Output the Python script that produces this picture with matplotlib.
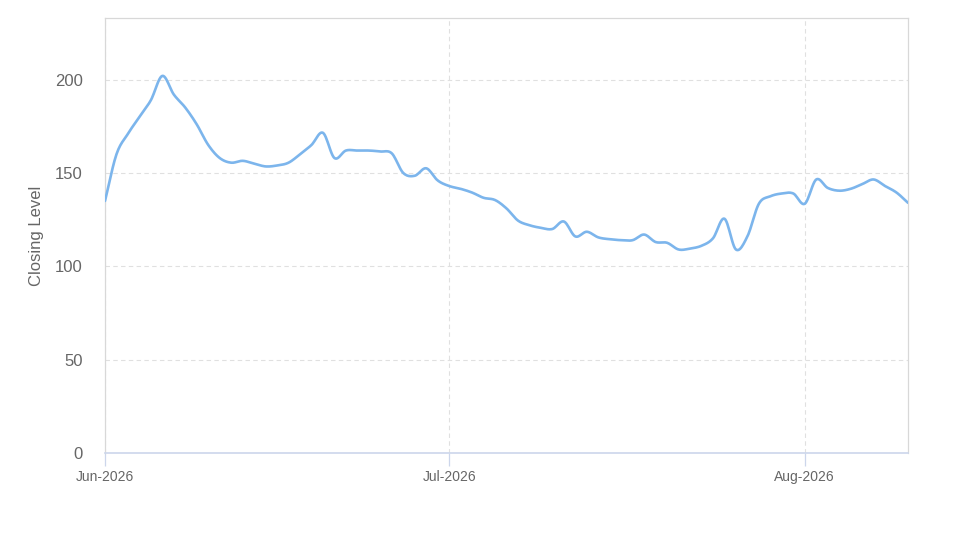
import numpy as np
import pandas as pd
import matplotlib
matplotlib.use('Agg')
import matplotlib.pyplot as plt
import matplotlib.dates as mdates

plt.rcParams['font.family'] = ['Liberation Sans', 'DejaVu Sans']

# daily closing levels, 1 Jun - 10 Aug 2026
start = '2026-06-01'
levels = [135, 160, 171, 180, 189, 202, 192, 185, 176, 165,
          158, 155.5, 156.5, 155, 153.5, 154, 155.5, 160, 165, 171.5,
          158, 162, 162, 162, 161.5, 160.5, 150, 148.5, 152.5, 146,
          143, 141.5, 139.5, 136.7, 135.5, 131, 124.5, 122, 120.6, 120,
          124, 116, 118.5, 115.5, 114.5, 114, 114, 117, 113, 112.6,
          109, 109.5, 111, 115, 125.5, 109, 116, 133.5, 137.5, 139,
          139, 133.5, 146.5, 142, 140.5, 141.5, 144, 146.5, 143, 139.5,
          134]
dates = pd.date_range(start, periods=len(levels), freq='D')

y_ticks = [0, 50, 100, 150, 200]
month_ticks = pd.to_datetime(['2026-06-01', '2026-07-01', '2026-08-01'])

line_col = '#7cb5ec'
axis_col = '#ccd6eb'
grid_col = '#e0e0e0'
text_col = '#666666'


def smooth(x, y, n=12):
    # catmull-rom through the daily points, only for drawing the curve
    x = np.asarray(x, float)
    y = np.asarray(y, float)
    px = np.concatenate([[2 * x[0] - x[1]], x, [2 * x[-1] - x[-2]]])
    py = np.concatenate([[2 * y[0] - y[1]], y, [2 * y[-1] - y[-2]]])
    t = np.linspace(0, 1, n, endpoint=False)
    xs, ys = [], []
    for i in range(1, len(px) - 2):
        for p, out in ((px, xs), (py, ys)):
            p0, p1, p2, p3 = p[i - 1], p[i], p[i + 1], p[i + 2]
            out.append(0.5 * (2 * p1 + (-p0 + p2) * t
                              + (2 * p0 - 5 * p1 + 4 * p2 - p3) * t ** 2
                              + (-p0 + 3 * p1 - 3 * p2 + p3) * t ** 3))
    xs.append([x[-1]])
    ys.append([y[-1]])
    return np.concatenate(xs), np.concatenate(ys)


fig = plt.figure(figsize=(9.74, 5.47), dpi=100)
ax = fig.add_axes([105 / 974, 94 / 547, 803 / 974, 435 / 547])

xn = mdates.date2num(dates)
sx, sy = smooth(xn, levels)
ax.plot(sx, sy, color=line_col, lw=1.9, solid_capstyle='round', zorder=3)

ax.set_xlim(xn[0], xn[-1])
ax.set_ylim(0, 233)
ax.set_yticks(y_ticks)
ax.set_xticks(mdates.date2num(month_ticks))
ax.xaxis.set_major_formatter(mdates.DateFormatter('%b-%Y'))

ax.grid(True, color=grid_col, lw=0.8, ls=(0, (4, 3)))
ax.set_axisbelow(True)

for s in ['top', 'right', 'left']:
    ax.spines[s].set_color('#d8d8d8')
    ax.spines[s].set_linewidth(0.9)
ax.spines['bottom'].set_color(axis_col)
ax.spines['bottom'].set_linewidth(1.2)

ax.tick_params(axis='y', length=0, pad=16, labelsize=12, labelcolor=text_col)
ax.tick_params(axis='x', length=9.5, width=0.9, color=axis_col, pad=3,
               labelsize=10, labelcolor=text_col)

ax.set_ylabel('Closing Level', fontsize=12, color=text_col, labelpad=8)

fig.savefig('out.png', dpi=100)
